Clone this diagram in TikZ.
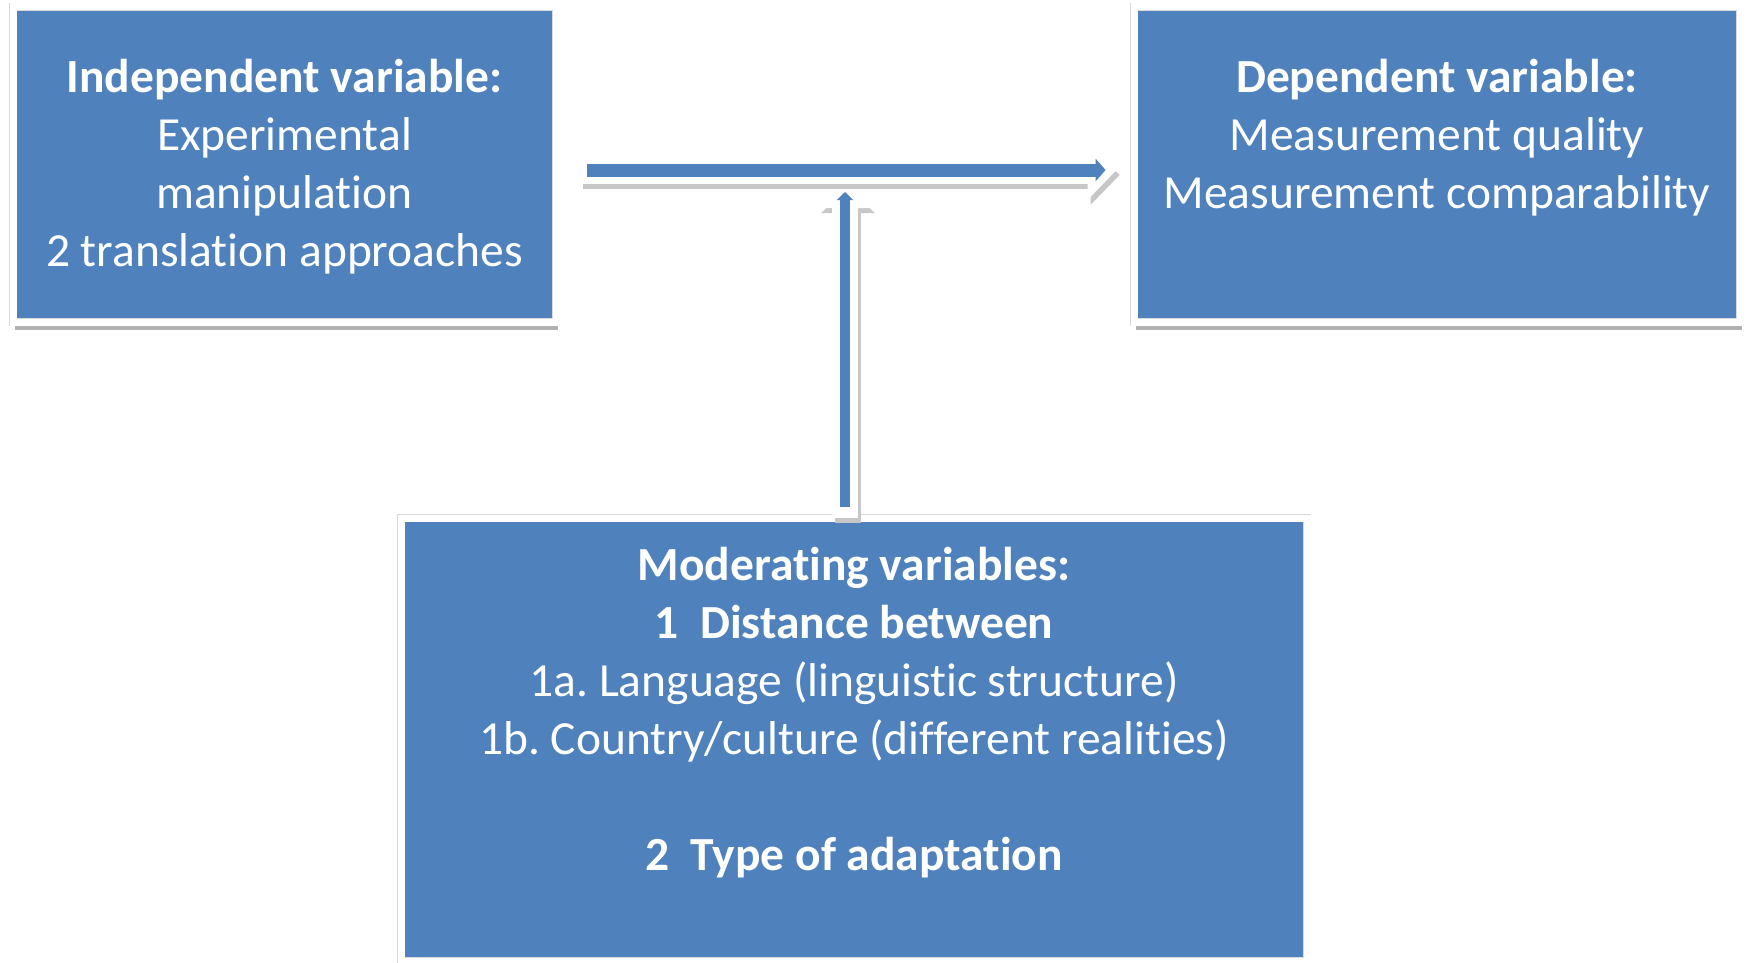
\documentclass[tikz,border=0pt]{standalone}
\usepackage{fontspec}
\setmainfont{Carlito}[Ligatures=NoCommon]
\usetikzlibrary{arrows.meta,shadows}
\definecolor{boxblue}{RGB}{79,129,189}
\newcommand{\lnstrut}{\rule[-14.5pt]{0pt}{58pt}}
\frenchspacing
\begin{document}
\begin{tikzpicture}[x=1pt, y=-1pt,
    varbox/.style={draw=black!15, double=white, double distance=7pt, line width=0.8pt,
      fill=boxblue, text=white, align=center, inner sep=0pt,
      font=\fontsize{47.5}{58}\selectfont,
      drop shadow={shadow xshift=2pt, shadow yshift=-8pt, fill=black!30, opacity=1}},
    whitearrow/.style n args={3}{draw=white, line width=#1, -{Triangle[width=#2, length=#3]}},
    bluearrow/.style n args={3}{draw=boxblue, line width=#1, -{Triangle[width=#2, length=#3]}},
    arrshadow/.style={draw=black!22, transform canvas={shift={(3pt,-5pt)}}}]
  \useasboundingbox (0,0) rectangle (1748,963);

  % Boxes
  \node[varbox, minimum width=543pt, minimum height=315pt] (indep) at (284.5,164.5)
    {\lnstrut\textbf{Independent variable:}\\Experimental\\manipulation\\2 translation approaches\lnstrut};
  \node[varbox, minimum width=606pt, minimum height=315pt] (dep) at (1437,164.5)
    {\lnstrut\textbf{Dependent variable:}\\Measurement quality\\Measurement comparability\\\lnstrut};
  \node[varbox, minimum width=906pt, minimum height=443pt] (mod) at (854,739.5)
    {\lnstrut\textbf{Moderating variables:}\\\textbf{1~~Distance between}\\1a. Language (linguistic structure)\\
     1b. Country/culture (different realities)\\\lnstrut\\\textbf{2~~Type of adaptation}\\\lnstrut};

  % Arrows
  \coordinate (hs) at ([xshift=24pt, yshift=-5.5pt]indep.east);
  \coordinate (he) at ([xshift=-17pt, yshift=-5.5pt]dep.west);
  \coordinate (vs) at ([xshift=-9pt]mod.north);
  \path (vs |- hs) ++(0,13) coordinate (vt);

  \draw[whitearrow={26pt}{52pt}{25pt}, arrshadow] (vs) -- (vt);
  \draw[whitearrow={26pt}{52pt}{25pt}] (vs) -- (vt);
  \draw[bluearrow={10pt}{16pt}{8pt}] ([yshift=11pt]vs) -- ([yshift=-9pt]vt);

  \draw[whitearrow={28pt}{58pt}{29pt}, arrshadow] (hs) -- (he);
  \draw[whitearrow={28pt}{58pt}{29pt}] (hs) -- (he);
  \draw[bluearrow={13pt}{22pt}{10pt}] ([xshift=7pt]hs) -- ([xshift=-11pt]he);
\end{tikzpicture}
\end{document}
